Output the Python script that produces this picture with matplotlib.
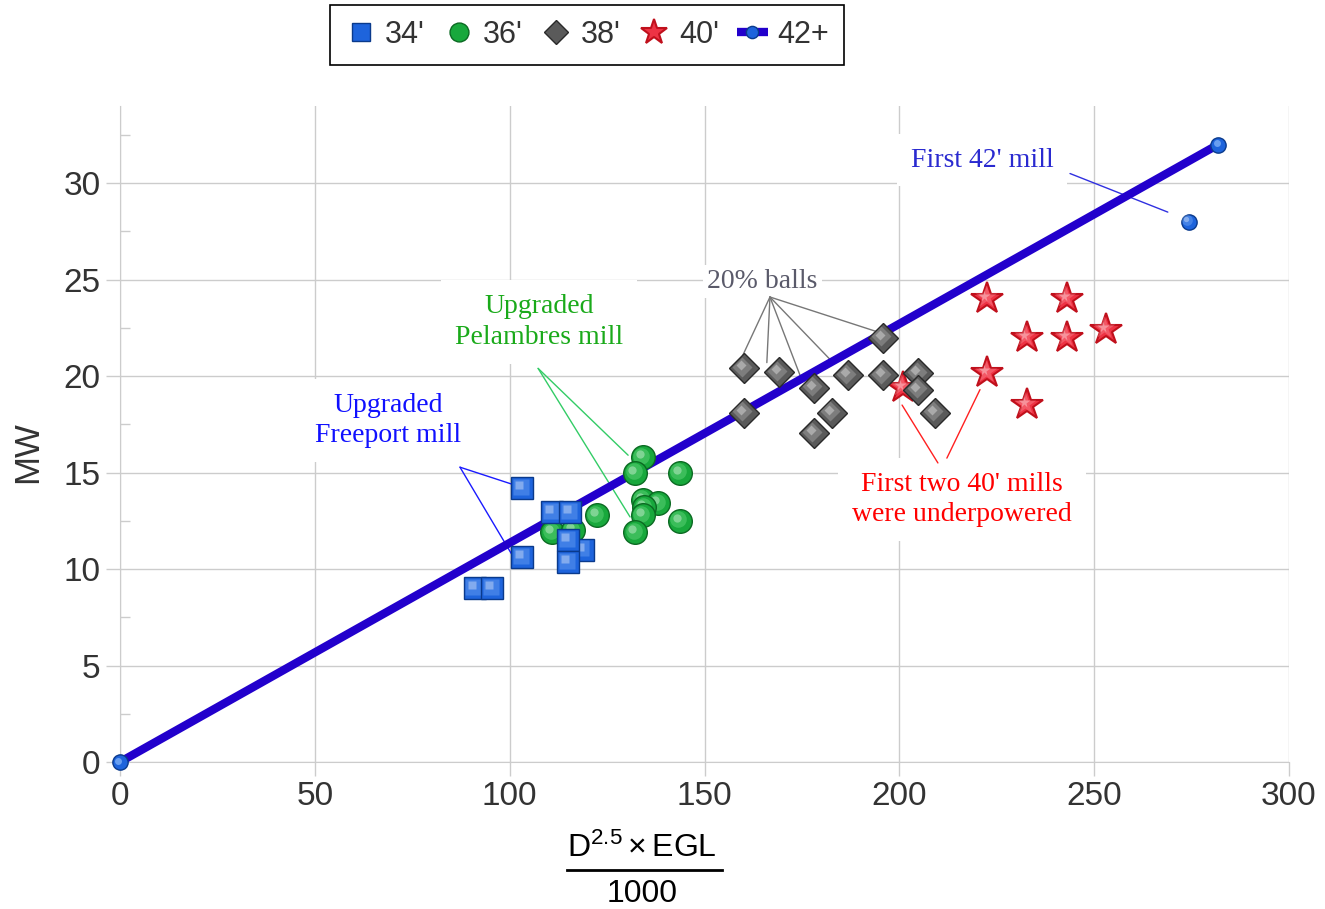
"""Mill power vs D^2.5 x EGL scatter with fitted line."""

import matplotlib
matplotlib.use("Agg")
import matplotlib.pyplot as plt
import matplotlib.transforms as mtransforms
from matplotlib.lines import Line2D
from matplotlib.ticker import MultipleLocator

plt.rcParams.update({
    "font.family": ["Liberation Sans", "DejaVu Sans"],
    "mathtext.fontset": "custom",
    "mathtext.rm": "Liberation Sans",
    "mathtext.it": "Liberation Sans:italic",
})

# values
mill34_x = [103.2, 110.9, 115.5, 118.8, 115.0, 103.2, 115.0, 91.1, 95.5]
mill34_y = [14.2, 12.95, 12.95, 11.0, 11.5, 10.6, 10.35, 9.0, 9.0]
mill36_x = [134.2, 132.2, 143.7, 122.4, 134.2, 138.1, 134.5, 134.2, 143.7, 132.2, 110.9, 116.2]
mill36_y = [15.8, 15.0, 15.0, 12.8, 13.6, 13.4, 13.2, 12.8, 12.5, 11.9, 11.9, 12.0]
mill38_x = [160.1, 169.1, 178.1, 186.8, 195.8, 195.8, 204.8, 204.8, 209.1, 160.1, 182.7, 178.1]
mill38_y = [20.4, 20.2, 19.4, 20.05, 22.0, 20.05, 20.15, 19.3, 18.1, 18.1, 18.1, 17.05]
mill40_x = [222.5, 243.0, 232.7, 243.0, 253.0, 222.5, 232.7, 200.9]
mill40_y = [24.0, 24.0, 22.0, 22.0, 22.4, 20.15, 18.5, 19.4]
mill42_x = [274.3]
mill42_y = [28.0]
fit_x = [0, 281.8]
fit_y = [0, 32.0]

x_ticks = [0, 50, 100, 150, 200, 250, 300]
y_ticks = [0, 5, 10, 15, 20, 25, 30]

GRID = "#cccccc"

fig = plt.figure(figsize=(13.25, 9.09), dpi=100)
ax = fig.add_axes([120 / 1325, 1 - 762 / 909, 1169 / 1325, 656 / 909])
ax.set_xlim(0, 300)
ax.set_ylim(0, 34)
ax.set_axisbelow(True)
ax.grid(True, color=GRID, linewidth=1)
ax.set_xticks(x_ticks)
ax.set_yticks(y_ticks)
ax.yaxis.set_minor_locator(MultipleLocator(2.5))
ax.tick_params(which="major", direction="out", length=10, width=1, color=GRID,
               labelsize=24, labelcolor="#333333", pad=4)
ax.tick_params(axis="y", which="minor", direction="in", length=7, width=1, color=GRID)
ax.tick_params(axis="x", which="minor", bottom=False)
for side in ("top", "right"):
    ax.spines[side].set_visible(False)
for side in ("left", "bottom"):
    ax.spines[side].set_color(GRID)

hl1 = mtransforms.offset_copy(ax.transData, fig=fig, x=-1.5, y=1.5, units="dots")
hl2 = mtransforms.offset_copy(ax.transData, fig=fig, x=-3, y=3, units="dots")


def glossy(xs, ys, marker, ms, base, edge, light, z, mew=1.0):
    handle = None
    for i, (x, y) in enumerate(zip(xs, ys)):
        zz = z + i * 0.01
        h, = ax.plot([x], [y], ls="none", marker=marker, ms=ms, mfc=base, mec=edge,
                     mew=mew, zorder=zz, clip_on=False)
        ax.plot([x], [y], ls="none", marker=marker, ms=ms * 0.7, mfc=light, mec="none",
                alpha=0.3, transform=hl1, zorder=zz + 0.003, clip_on=False)
        ax.plot([x], [y], ls="none", marker=marker, ms=ms * 0.35, mfc="white", mec="none",
                alpha=0.35, transform=hl2, zorder=zz + 0.006, clip_on=False)
        if handle is None:
            handle = h
    return handle


# fitted line through the 42' mill
fit, = ax.plot(fit_x, fit_y, color="#2200cc", lw=6, solid_capstyle="butt",
               marker="o", ms=11, mfc="#1e64dc", mec="#0a3a8c", zorder=4, clip_on=False)
ax.plot(fit_x, fit_y, ls="none", marker="o", ms=5, mfc="#9cc8ff", mec="none",
        alpha=0.6, transform=hl1, zorder=4.1, clip_on=False)

h40 = glossy(mill40_x, mill40_y, "*", 24, "#ee3344", "#c0101c", "#ffb0b8", 5, mew=1.5)
h36 = glossy(mill36_x, mill36_y, "o", 17, "#18a83c", "#0b6a22", "#8ef0a0", 5.5)
h34 = glossy(mill34_x, mill34_y, "s", 16, "#1e64dc", "#0a3a8c", "#8fc0ff", 6)
h38 = glossy(mill38_x, mill38_y, "D", 15, "#5a5a5a", "#2a2a2a", "#d0d0d0", 6.5)
glossy(mill42_x, mill42_y, "o", 11, "#1e64dc", "#0a3a8c", "#9cc8ff", 6)

# annotations
serif = ["Liberation Serif", "DejaVu Serif"]
notes = [
    ("First 42' mill", 221.2, 31.2, "#2a2ad0", "#3030e0",
     (243.8, 30.5), [(268.9, 28.5)]),
    ("20% balls", 164.8, 24.9, "#5a5a6a", "#777777",
     (166.8, 24.1), [(157.8, 20.2), (166.0, 20.7), (174.5, 20.05), (183.0, 20.7), (194.3, 22.3)]),
    ("Upgraded\nPelambres mill", 107.5, 22.8, "#1aaa1a", "#33cc66",
     (107.3, 20.4), [(130.4, 15.9), (130.9, 12.7)]),
    ("Upgraded\nFreeport mill", 68.8, 17.7, "#1010ff", "#1a1aff",
     (87.25, 15.28), [(102.1, 14.3), (101.9, 10.3)]),
]
for text, tx, ty, tc, lc, apex, ends in notes:
    pad = 0.15 if text == "20% balls" else 0.5
    ax.text(tx, ty, text, ha="center", va="center", family=serif, fontsize=20,
            color=tc, linespacing=1.3, zorder=3,
            bbox=dict(boxstyle=f"square,pad={pad}", fc="white", ec="none"))
    for ex, ey in ends:
        ax.annotate("", xy=(ex, ey), xytext=apex,
                    arrowprops=dict(arrowstyle="-", color=lc, lw=1, shrinkA=0, shrinkB=0),
                    zorder=3.5)

ax.text(216.1, 13.6, "First two 40' mills\nwere underpowered", ha="center", va="center",
        family=serif, fontsize=20, color="#ff0000", linespacing=1.3, zorder=3,
        bbox=dict(boxstyle="square,pad=0.5", fc="white", ec="none"))
for (sx, sy), (ex, ey) in [((209.9, 15.5), (200.7, 18.5)), ((212.2, 15.75), (220.7, 19.3))]:
    ax.annotate("", xy=(ex, ey), xytext=(sx, sy),
                arrowprops=dict(arrowstyle="-", color="#ff2020", lw=1, shrinkA=0, shrinkB=0),
                zorder=3.5)

# axis labels
fig.text(28 / 1325, 1 - 452 / 909, "MW", rotation=90, ha="center", va="center",
         fontsize=25, color="#333333")
fig.text(642 / 1325, 1 - 857 / 909, "D$^{2.5}\\times$EGL", ha="center", va="baseline",
         fontsize=23, color="black")
fig.text(642 / 1325, 1 - 902 / 909, "1000", ha="center", va="baseline",
         fontsize=23, color="black")
fig.add_artist(Line2D([567 / 1325, 722 / 1325], [1 - 870 / 909] * 2, color="black", lw=2))

leg = fig.legend([h34, h36, h38, h40, fit], ["34'", "36'", "38'", "40'", "42+"],
                 loc="center", bbox_to_anchor=(587 / 1325, 1 - 35 / 909), ncol=5,
                 fontsize=22, frameon=True, fancybox=False, edgecolor="black",
                 framealpha=1, handlelength=1.0, handletextpad=0.3, columnspacing=0.6,
                 borderpad=0.5, borderaxespad=0, markerscale=0.8)
leg.get_frame().set_linewidth(1.2)
for t in leg.get_texts():
    t.set_color("#333333")

fig.savefig("out.png", dpi=100)
